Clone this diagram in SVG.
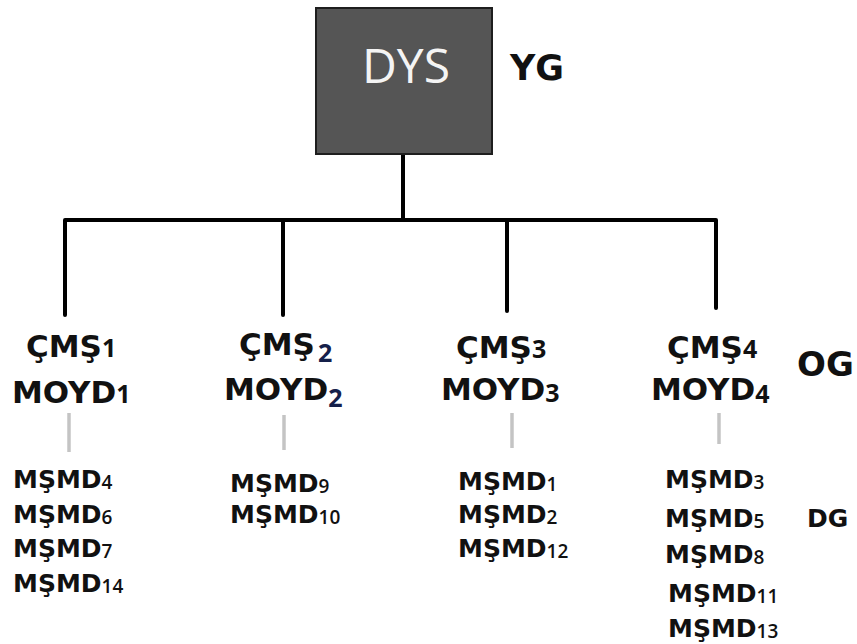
<svg xmlns="http://www.w3.org/2000/svg" width="857" height="644" viewBox="0 0 857 644">
  <style>
    .bg { fill: #ffffff; }
    .box { fill: #555555; stroke: #1e1e1e; stroke-width: 2; }
    .title { font-family: "Open Sans", "DejaVu Sans", sans-serif; font-weight: 400; font-size: 48px; fill: #f4f4f4; }
    .lvl { font-family: "DejaVu Sans", sans-serif; font-weight: bold; fill: #111111; }
    .head { font-family: "DejaVu Sans", sans-serif; font-weight: bold; font-size: 31px; fill: #111111; }
    .item { font-family: "DejaVu Sans", sans-serif; font-weight: bold; font-size: 25px; fill: #111111; }
    .sub { font-family: "Open Sans", "DejaVu Sans", sans-serif; font-weight: bold; }
    .subh { font-size: 25px; }
    .subi { font-size: 19px; font-weight: 600; }
    .navy { fill: #15204a; }
    .tree { fill: none; stroke: #000000; stroke-width: 4; stroke-linecap: round; stroke-linejoin: round; }
    .stem { fill: none; stroke: #c4c4c4; stroke-width: 3.5; }
  </style>

  <rect class="bg" x="0" y="0" width="857" height="644"/>

  <!-- connectors -->
  <g id="connectors">
    <path class="tree" d="M403 154 V220"/>
    <path class="tree" d="M65 315 V220 H716 V308"/>
    <path class="tree" d="M283 220 V315"/>
    <path class="tree" d="M507 220 V311"/>
    <path class="stem" d="M69 413 V452"/>
    <path class="stem" d="M284 415 V450"/>
    <path class="stem" d="M512 413 V448"/>
    <path class="stem" d="M719 413 V444"/>
  </g>

  <!-- top unit -->
  <g id="dys">
    <rect class="box" x="316" y="8" width="176" height="146"/>
    <text class="title" x="406" y="83" text-anchor="middle">DYS</text>
  </g>

  <!-- level labels -->
  <g id="levels">
    <text class="lvl" x="510" y="80" font-size="35">YG</text>
    <text class="lvl" x="797" y="376" font-size="34">OG</text>
    <text class="lvl" x="807" y="527" font-size="25">DG</text>
  </g>

  <!-- branch 1 -->
  <g id="branch1">
    <text class="head" x="26" y="357">ÇMŞ<tspan class="sub subh">1</tspan></text>
    <text class="head" x="12" y="403">MOYD<tspan class="sub subh">1</tspan></text>
    <text class="item" x="13" y="488">MŞMD<tspan class="sub subi" dy="1">4</tspan></text>
    <text class="item" x="13" y="523">MŞMD<tspan class="sub subi" dy="1">6</tspan></text>
    <text class="item" x="13" y="557">MŞMD<tspan class="sub subi" dy="1">7</tspan></text>
    <text class="item" x="13" y="592">MŞMD<tspan class="sub subi" dy="1">14</tspan></text>
  </g>

  <!-- branch 2 -->
  <g id="branch2">
    <text class="head" x="239" y="355">ÇMŞ<tspan class="sub subh navy" dx="3" dy="7">2</tspan></text>
    <text class="head" x="224" y="400">MOYD<tspan class="sub subh navy" dy="7">2</tspan></text>
    <text class="item" x="230" y="492">MŞMD<tspan class="sub subi" dy="1">9</tspan></text>
    <text class="item" x="230" y="523">MŞMD<tspan class="sub subi" dy="1">10</tspan></text>
  </g>

  <!-- branch 3 -->
  <g id="branch3">
    <text class="head" x="456" y="358">ÇMŞ<tspan class="sub subh">3</tspan></text>
    <text class="head" x="441" y="400">MOYD<tspan class="sub subh" dy="2">3</tspan></text>
    <text class="item" x="458" y="490">MŞMD<tspan class="sub subi" dy="1">1</tspan></text>
    <text class="item" x="458" y="523">MŞMD<tspan class="sub subi" dy="1">2</tspan></text>
    <text class="item" x="458" y="557">MŞMD<tspan class="sub subi" dy="1">12</tspan></text>
  </g>

  <!-- branch 4 -->
  <g id="branch4">
    <text class="head" x="667" y="358">ÇMŞ<tspan class="sub subh">4</tspan></text>
    <text class="head" x="651" y="400">MOYD<tspan class="sub subh" dy="3">4</tspan></text>
    <text class="item" x="665" y="488">MŞMD<tspan class="sub subi" dy="1">3</tspan></text>
    <text class="item" x="665" y="527">MŞMD<tspan class="sub subi" dy="1">5</tspan></text>
    <text class="item" x="665" y="563">MŞMD<tspan class="sub subi" dy="1">8</tspan></text>
    <text class="item" x="668" y="602">MŞMD<tspan class="sub subi" dy="1">11</tspan></text>
    <text class="item" x="668" y="637">MŞMD<tspan class="sub subi" dy="1">13</tspan></text>
  </g>
</svg>
